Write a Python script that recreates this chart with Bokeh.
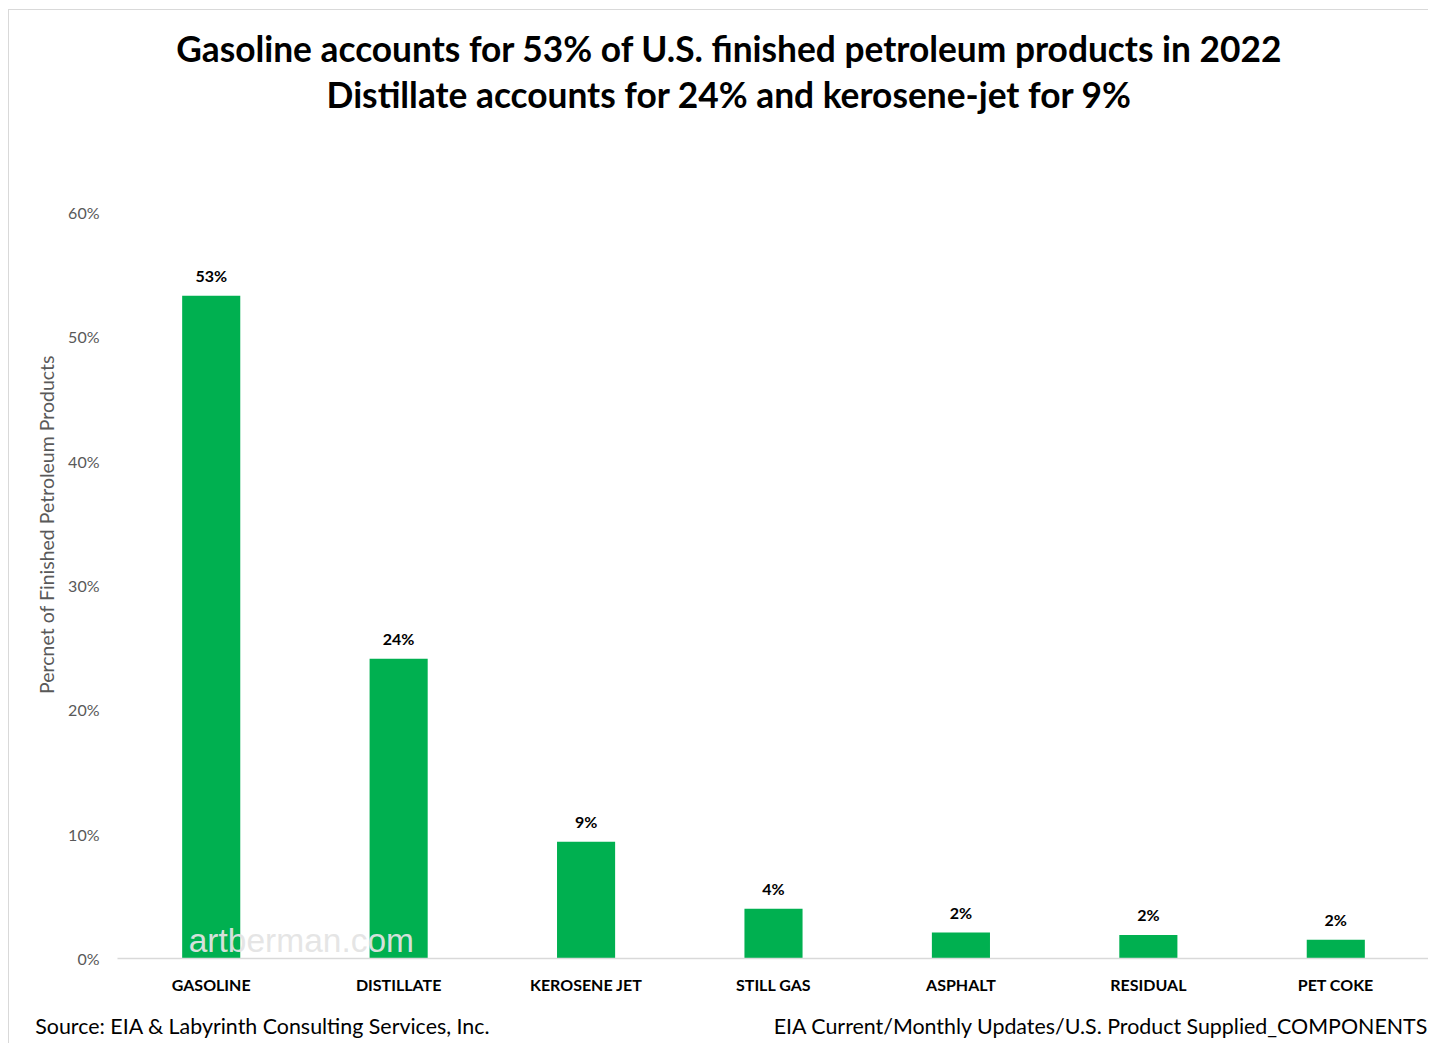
from bokeh.plotting import figure
from bokeh.models import (ColumnDataSource, Label, NumeralTickFormatter, FixedTicker, Range1d,
                          LinearAxis)
from bokeh.core.properties import value
from bokeh.embed import file_html
from bokeh.resources import INLINE

categories = ["GASOLINE", "DISTILLATE", "KEROSENE JET", "STILL GAS", "ASPHALT", "RESIDUAL", "PET COKE"]
shares = [0.533, 0.241, 0.094, 0.040, 0.021, 0.019, 0.015]
share_labels = ["53%", "24%", "9%", "4%", "2%", "2%", "2%"]
y_ticks = [0.0, 0.1, 0.2, 0.3, 0.4, 0.5, 0.6]

title_1 = "Gasoline accounts for 53% of U.S. finished petroleum products in 2022"
title_2 = "Distillate accounts for 24% and kerosene-jet for 9%"
y_title = "Percnet of Finished Petroleum Products"
source_left = "Source: EIA  & Labyrinth Consulting Services, Inc."
source_right = "EIA Current/Monthly Updates/U.S. Product Supplied_COMPONENTS"
watermark = "artberman.com"

FONT = "Lato"
GREEN = "#00B050"
GRAY = "#595959"

# layout helpers: page-pixel coordinates of the plot frame
FRAME_L, FRAME_R, FRAME_T, FRAME_B = 117, 1429, 212, 958
TITLE_X = 729
SRC_LEFT_X, SRC_RIGHT_X = 265, 1104
YLABEL_Y = 524

# categorical slots: category i is centred at i + 0.5
pos = [i + 0.5 for i in range(len(categories))]
src = ColumnDataSource(dict(x=pos, cat=categories, val=shares, lab=share_labels))

p = figure(x_range=Range1d(0, len(categories)), y_range=Range1d(0, 0.6),
           width=1420, height=1034, output_backend="svg", toolbar_location=None,
           min_border_left=108, min_border_right=0, min_border_top=202, min_border_bottom=86,
           background_fill_color="white", border_fill_color="white")
p.styles = {"margin-left": "8px", "margin-top": "9px",
            "border-left": "1px solid #d9d9d9", "border-top": "1px solid #d9d9d9"}
p.outline_line_color = None
p.xgrid.grid_line_color = None
p.ygrid.grid_line_color = None
p.extra_x_ranges = {"px": Range1d(FRAME_L, FRAME_R)}
p.extra_y_ranges = {"py": Range1d(FRAME_B, FRAME_T)}

p.vbar(x="x", top="val", width=0.31, source=src, fill_color=GREEN, line_color=None)

p.text(x="x", y="val", text="lab", source=src, y_offset=-20,
       text_align="center", text_baseline="alphabetic",
       text_font=value(FONT), text_font_style="bold", text_font_size="16px", text_color="black")

# watermark
p.add_layout(Label(x=0.38, y=0, text=watermark, text_font="Liberation Sans",
                   text_font_size="33.5px", text_color="#e4e4e4", text_alpha=0.95,
                   text_align="left", text_baseline="bottom"))

def plain_axis(ax):
    ax.axis_line_color = None
    ax.major_tick_line_color = None
    ax.minor_tick_line_color = None
    ax.major_tick_in = 0
    ax.major_tick_out = 0
    ax.minor_tick_in = 0
    ax.minor_tick_out = 0

# y axis
plain_axis(p.yaxis[0])
p.yaxis.ticker = FixedTicker(ticks=y_ticks)
p.yaxis.formatter = NumeralTickFormatter(format="0%")
p.yaxis.major_label_text_font = FONT
p.yaxis.major_label_text_font_size = "16px"
p.yaxis.major_label_text_color = GRAY
p.yaxis.major_label_standoff = 18

# y title as an outer left axis with a single rotated label
ylab_axis = LinearAxis(y_range_name="py", ticker=FixedTicker(ticks=[YLABEL_Y]),
                       major_label_overrides={YLABEL_Y: y_title},
                       major_label_orientation="vertical")
plain_axis(ylab_axis)
ylab_axis.major_label_text_font = FONT
ylab_axis.major_label_text_font_size = "19.5px"
ylab_axis.major_label_text_color = GRAY
ylab_axis.major_label_standoff = 8
p.add_layout(ylab_axis, "left")

# x axis (category names)
p.xaxis.ticker = FixedTicker(ticks=pos)
p.xaxis.major_label_overrides = {x: c for x, c in zip(pos, categories)}
p.xaxis.axis_line_color = "#d9d9d9"
p.xaxis.axis_line_width = 1.5
p.xaxis.major_tick_line_color = None
p.xaxis.minor_tick_line_color = None
p.xaxis.major_tick_in = 0
p.xaxis.major_tick_out = 0
p.xaxis.minor_tick_out = 0
p.xaxis.major_label_text_font = FONT
p.xaxis.major_label_text_font_size = "16px"
p.xaxis.major_label_text_font_style = "bold"
p.xaxis.major_label_text_color = "black"
p.xaxis.major_label_standoff = 16

# source line as an outer bottom axis
src_axis = LinearAxis(x_range_name="px", ticker=FixedTicker(ticks=[SRC_LEFT_X, SRC_RIGHT_X]),
                      major_label_overrides={SRC_LEFT_X: source_left, SRC_RIGHT_X: source_right})
plain_axis(src_axis)
src_axis.major_label_text_font = FONT
src_axis.major_label_text_font_size = "21.4px"
src_axis.major_label_text_color = "black"
src_axis.major_label_standoff = 16
p.add_layout(src_axis, "below")

# two title lines as top axes (line 2 nearest the frame)
for txt, standoff in [(title_2, 97), (title_1, 0)]:
    t_axis = LinearAxis(x_range_name="px", ticker=FixedTicker(ticks=[TITLE_X]),
                        major_label_overrides={TITLE_X: txt})
    plain_axis(t_axis)
    t_axis.major_label_text_font = FONT
    t_axis.major_label_text_font_size = "35.3px"
    t_axis.major_label_text_font_style = "bold"
    t_axis.major_label_text_color = "black"
    t_axis.major_label_standoff = standoff
    p.add_layout(t_axis, "above")

open("out.html", "w").write(file_html(p, INLINE))
